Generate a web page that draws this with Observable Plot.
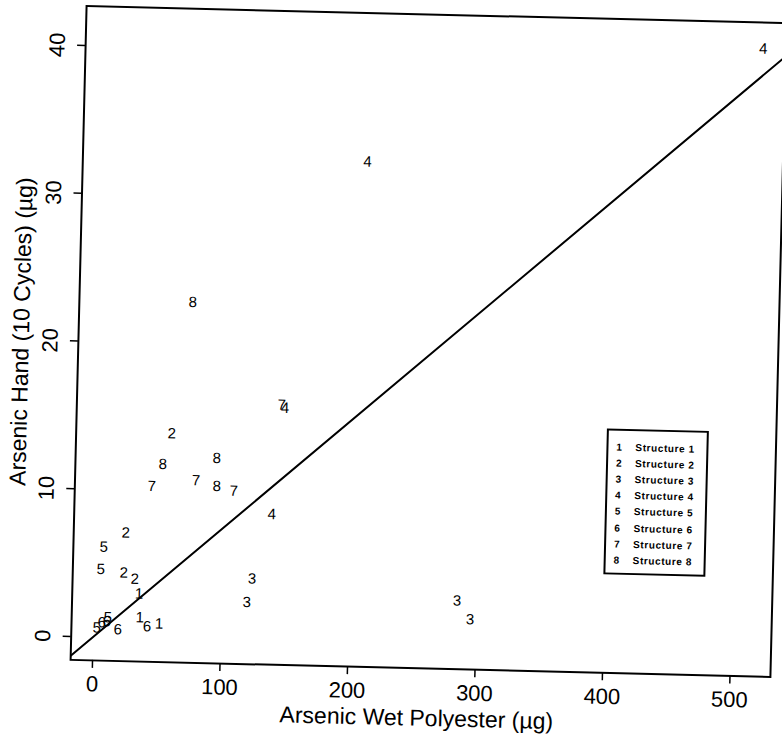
<!DOCTYPE html>
<html><head><meta charset="utf-8">
<script src="https://cdn.jsdelivr.net/npm/d3@7"></script>
<script src="https://cdn.jsdelivr.net/npm/@observablehq/plot@0.6"></script>
<style>
html,body{margin:0;background:#fff;overflow:hidden;}
#wrap{position:relative;width:782px;height:745px;font-family:"Liberation Sans",Arial,sans-serif;transform:rotate(1.4deg);transform-origin:428.5px 341px;}
#wrap svg{display:block;}
#legend{position:absolute;left:609px;top:424px;width:98px;height:142px;border:2px solid #000;background:#fff;box-sizing:content-box;}
#legend .row{position:absolute;left:0;width:98px;height:16px;font-size:10px;font-weight:bold;letter-spacing:0.6px;line-height:16px;color:#000;}
#legend .num{position:absolute;left:5px;width:12px;text-align:center;}
#legend .lab{position:absolute;left:27px;white-space:nowrap;}
</style></head><body><div id="wrap"></div>
<script>
// categories
const structures = [1, 2, 3, 4, 5, 6, 7, 8];
const structureNames = ["Structure 1","Structure 2","Structure 3","Structure 4","Structure 5","Structure 6","Structure 7","Structure 8"];
// series values
const pointStructure = [1,1,1, 2,2,2,2, 3,3,3,3, 4,4,4,4, 5,5,5,5, 6,6,6,6, 7,7,7,7, 8,8,8,8];
const wetPolyester = [35.1,36.3,51.4, 57.8,23.7,22.9,31.6, 123.4,119.9,284.6,295.1, 514,206,146,137.8, 6.7,4.8,2.7,11.2, 42,6.6,10.5,19.3, 143.5,43.1,77.6,107.5, 71.7,51.4,93.6,94.1];
const handArsenic = [3.0,1.4,1.0, 13.9,7.1,4.4,4.0, 4.2,2.6,3.06,1.8, 40.9,32.6,15.8,8.6, 6.1,4.6,0.64,1.34, 0.8,0.99,1.07,0.54, 16.0,10.3,10.75,10.1, 22.8,11.8,12.3,10.4];
const fitSlope = 0.076;
// tick labels
const xTicks = [0, 100, 200, 300, 400, 500];
const yTicks = [0, 10, 20, 30, 40];
const xDomain = [-17.2, 531.7];
const yDomain = [-1.58, 42.67];
const xTitle = "Arsenic Wet Polyester (\u00b5g)";
const yTitle = "Arsenic Hand (10 Cycles) (\u00b5g)";

const points = pointStructure.map((s, i) => ({s, x: wetPolyester[i], y: handArsenic[i]}));
const fitLine = xDomain.map(x => ({x, y: fitSlope * x}));

const font = "Liberation Sans, Arial, sans-serif";
const chart = Plot.plot({
  width: 782, height: 745,
  marginLeft: 78, marginRight: 4, marginTop: 14, marginBottom: 77,
  style: {fontFamily: font, background: "transparent", color: "#000", overflow: "visible"},
  x: {domain: xDomain, axis: null},
  y: {domain: yDomain, axis: null},
  marks: [
    Plot.line(fitLine, {x: "x", y: "y", stroke: "#000", strokeWidth: 2, clip: true}),
    Plot.text(points, {x: "x", y: "y", text: d => String(d.s), fontSize: 15, fill: "#000"}),
    Plot.frame({stroke: "#000", strokeWidth: 2}),
    Plot.axisX({ticks: xTicks, tickSize: 8, tickFormat: () => "", label: null, strokeWidth: 1.5}),
    Plot.axisY({ticks: yTicks, tickSize: 8, tickFormat: () => "", label: null, strokeWidth: 1.5}),
    Plot.text(xTicks, {x: d => d, frameAnchor: "bottom", dy: 24, lineAnchor: "middle", text: d => String(d), fontSize: 22, fill: "#000"}),
    Plot.text(yTicks, {y: d => d, frameAnchor: "left", dx: -28, rotate: -90, textAnchor: "middle", lineAnchor: "middle", text: d => String(d), fontSize: 22, fill: "#000"}),
    Plot.text([xTitle], {frameAnchor: "bottom", dx: -3, dy: 50, textAnchor: "middle", lineAnchor: "middle", text: d => d, fontSize: 23, fill: "#000"}),
    Plot.text([yTitle], {frameAnchor: "left", dx: -57, rotate: -90, textAnchor: "middle", lineAnchor: "middle", text: d => d, fontSize: 23, fill: "#000"})
  ]
});
const wrap = document.getElementById("wrap");
wrap.appendChild(chart);

const legend = document.createElement("div");
legend.id = "legend";
structures.forEach((s, i) => {
  const row = document.createElement("div");
  row.className = "row";
  row.style.top = (9 + i * 16.1) + "px";
  row.innerHTML = `<span class="num">${s}</span><span class="lab">${structureNames[i]}</span>`;
  legend.appendChild(row);
});
wrap.appendChild(legend);
</script>
</body></html>
